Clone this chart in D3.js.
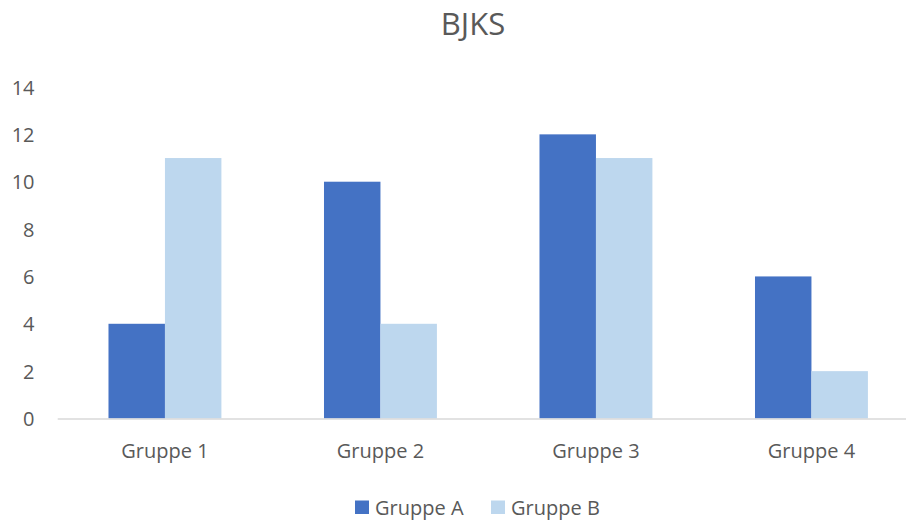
<!DOCTYPE html>
<html>
<head>
<meta charset="utf-8">
<script src="https://cdn.jsdelivr.net/npm/d3@7"></script>
<style>
	body { margin: 0; background: #fff; }
	svg { display: block; font-family: "Open Sans", sans-serif; }
</style>
</head>
<body>
<div id="chart"></div>
<script>
//------------------------------------------------------------------------------
// Data
//------------------------------------------------------------------------------

var categories = ["Gruppe 1", "Gruppe 2", "Gruppe 3", "Gruppe 4"];
var series_names = ["Gruppe A", "Gruppe B"];
var gruppe_a = [4, 10, 12, 6];
var gruppe_b = [11, 4, 11, 2];
var y_ticks = [0, 2, 4, 6, 8, 10, 12, 14];
var chart_title = "BJKS";

//------------------------------------------------------------------------------
// Plotting
//------------------------------------------------------------------------------

function draw_chart() {
	var width = 906, height = 520;
	var colors = ["#4472C4", "#BDD7EE"];
	var text_color = "#595959";

	var svg = d3.select("#chart")
		.append("svg")
		.attr("width", width)
		.attr("height", height);

	var xscale = d3.scaleBand()
		.domain(categories)
		.range([57.2, 919.2])
		.paddingInner(0.476)
		.paddingOuter(0.238);

	var xsub = d3.scaleBand()
		.domain(series_names)
		.range([0, xscale.bandwidth()]);

	var yscale = d3.scaleLinear()
		.domain([0, 14])
		.range([418.5, 87]);

	// title
	svg.append("text")
		.attr("x", 473)
		.attr("y", 35)
		.attr("text-anchor", "middle")
		.attr("font-size", 31)
		.attr("fill", text_color)
		.text(chart_title);

	// y axis labels (no line, no gridlines)
	var y_axis = d3.axisLeft(yscale)
		.tickValues(y_ticks)
		.tickSize(0)
		.tickPadding(0);

	var gy = svg.append("g")
		.attr("transform", "translate(34.5, 0)")
		.call(y_axis);
	gy.select(".domain").remove();
	gy.selectAll("text")
		.attr("font-family", "Open Sans, sans-serif")
		.attr("font-size", 20)
		.attr("fill", text_color)
		.attr("dy", "0.36em");

	// bars
	var all_series = [gruppe_a, gruppe_b];
	series_names.forEach(function(name, si) {
		svg.append("g")
			.selectAll("rect")
			.data(all_series[si])
			.enter()
			.append("rect")
			.attr("x", function(d, i) { return xscale(categories[i]) + xsub(name); })
			.attr("y", function(d) { return yscale(d); })
			.attr("width", xsub.bandwidth())
			.attr("height", function(d) { return yscale(0) - yscale(d); })
			.attr("fill", colors[si]);
	});

	// x axis
	var x_axis = d3.axisBottom(xscale)
		.tickSize(0)
		.tickPadding(0);

	var gx = svg.append("g")
		.attr("transform", "translate(0, " + yscale(0) + ")")
		.call(x_axis);
	gx.select(".domain")
		.attr("stroke", "#D9D9D9")
		.attr("stroke-width", 1.5);
	gx.selectAll("text")
		.attr("font-family", "Open Sans, sans-serif")
		.attr("font-size", 20)
		.attr("fill", text_color)
		.attr("dy", 0)
		.attr("y", 39);

	// legend
	var legend_x = [355, 491];
	var legend = svg.append("g")
		.selectAll("g")
		.data(series_names)
		.enter()
		.append("g")
		.attr("transform", function(d, i) { return "translate(" + legend_x[i] + ", 500.5)"; });

	legend.append("rect")
		.attr("width", 14)
		.attr("height", 13.5)
		.attr("fill", function(d, i) { return colors[i]; });

	legend.append("text")
		.attr("x", 20)
		.attr("y", 14.5)
		.attr("font-size", 20)
		.attr("fill", text_color)
		.text(function(d) { return d; });
}

//------------------------------------------------------------------------------
// Main
//------------------------------------------------------------------------------

draw_chart();
</script>
</body>
</html>
